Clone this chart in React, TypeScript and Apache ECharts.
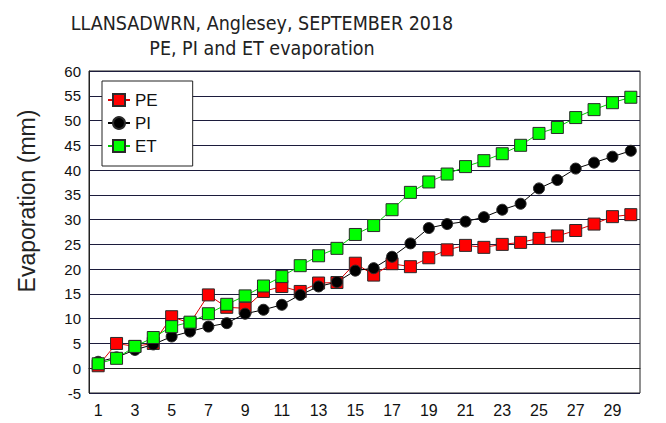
import { useEffect, useRef } from "react";
import * as echarts from "echarts";

// September 2018, day of month
const days = Array.from({ length: 30 }, (_, i) => String(i + 1));

// cumulative evaporation (mm)
const pe = [0.5, 5.0, 4.4, 5.0, 10.4, 9.1, 14.8, 12.3, 12.1, 15.5, 16.5, 15.5, 17.2, 17.3, 21.2, 18.8, 21.1, 20.5, 22.3, 23.9, 24.8, 24.4, 25.0, 25.4, 26.2, 26.7, 27.8, 29.1, 30.6, 31.0];
const pi = [1.3, 2.2, 3.7, 4.8, 6.4, 7.4, 8.4, 9.1, 11.0, 11.8, 12.8, 14.8, 16.5, 17.4, 19.7, 20.2, 22.5, 25.2, 28.3, 29.1, 29.6, 30.5, 32.0, 33.2, 36.3, 38.0, 40.3, 41.5, 42.7, 43.9];
const et = [0.9, 2.0, 4.4, 6.2, 8.4, 9.3, 11.0, 12.9, 14.6, 16.6, 18.5, 20.7, 22.7, 24.2, 27.0, 28.8, 32.0, 35.5, 37.6, 39.2, 40.7, 41.9, 43.3, 45.0, 47.4, 48.6, 50.6, 52.2, 53.6, 54.7];

const titleLines = ["LLANSADWRN, Anglesey, SEPTEMBER 2018", "PE, PI and ET evaporation"];
const yLabel = "Evaporation (mm)";

const sans = "'Liberation Sans', Arial, sans-serif";
const titleFont = "'DejaVu Sans Condensed', 'DejaVu Sans', sans-serif";

export default function App() {
  const ref = useRef<HTMLDivElement>(null);

  useEffect(() => {
    document.body.style.margin = "0";
    if (!ref.current) return;
    const chart = echarts.init(ref.current, null, { renderer: "svg" });

    const mk = (name: string, data: number[], fill: string, line: string, symbol: string, size: number) => ({
      name,
      type: "line",
      data,
      symbol,
      symbolSize: size,
      itemStyle: { color: fill, borderColor: "#2a2a2a", borderWidth: 1 },
      lineStyle: { color: line, width: 1 },
      emphasis: { disabled: true },
    });

    chart.setOption({
      animation: false,
      backgroundColor: "#fff",
      graphic: [
        {
          type: "text",
          x: 262,
          y: 23,
          style: { text: titleLines[0], font: `19.5px ${titleFont}`, fill: "#222", textAlign: "center", textVerticalAlign: "middle" },
        },
        {
          type: "text",
          x: 262,
          y: 48,
          style: { text: titleLines[1], font: `19.5px ${titleFont}`, fill: "#222", textAlign: "center", textVerticalAlign: "middle" },
        },
        {
          type: "text",
          x: 27,
          y: 201,
          rotation: Math.PI / 2,
          style: { text: yLabel, font: `23px ${sans}`, fill: "#222", textAlign: "center", textVerticalAlign: "middle" },
        },
      ],
      grid: { left: 89, right: 26, top: 71, bottom: 30, show: true, borderColor: "#222", borderWidth: 1 },
      legend: {
        data: ["PE", "PI", "ET"],
        orient: "vertical",
        left: 102,
        top: 81,
        padding: [10, 35, 11, 5],
        itemWidth: 22,
        itemHeight: 15,
        itemGap: 5,
        backgroundColor: "#fff",
        borderColor: "#222",
        borderWidth: 1,
        textStyle: { fontSize: 17, fontFamily: sans, color: "#111", lineHeight: 18 },
      },
      xAxis: {
        type: "category",
        data: days,
        boundaryGap: true,
        axisLine: { show: true, lineStyle: { color: "#222" } },
        axisTick: { show: false },
        axisLabel: { interval: 1, fontSize: 16, fontFamily: sans, color: "#111", margin: 9 },
      },
      yAxis: {
        type: "value",
        min: -5,
        max: 60,
        interval: 5,
        axisLine: { show: true, lineStyle: { color: "#222" } },
        axisTick: { show: false },
        axisLabel: { fontSize: 15, fontFamily: sans, color: "#111", margin: 8 },
        splitLine: { lineStyle: { color: "#1c1c3c", width: 1 } },
      },
      series: [
        mk("PE", pe, "#ff0000", "#e00000", "rect", 12),
        mk("PI", pi, "#000000", "#000000", "circle", 11),
        mk("ET", et, "#00ff00", "#00c800", "rect", 12),
      ],
    });

    return () => chart.dispose();
  }, []);

  return <div ref={ref} style={{ width: 666, height: 423 }} />;
}
